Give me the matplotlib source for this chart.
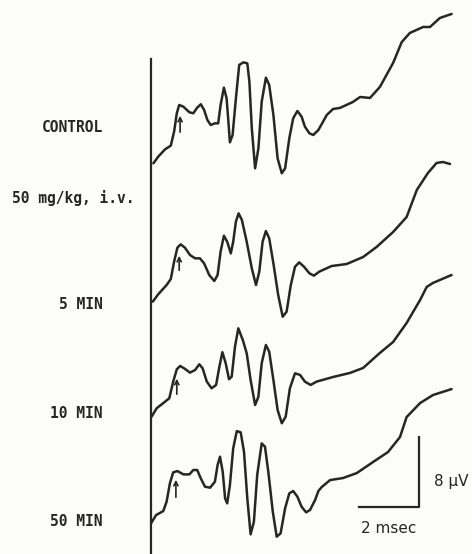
import matplotlib
matplotlib.use("Agg")
import matplotlib.pyplot as plt

# evoked potential traces: time after stimulus (msec) and amplitude (uV) relative to start
control_t = [0.08, 0.24, 0.47, 0.66, 0.77, 0.86, 0.94, 1.08, 1.28, 1.41, 1.54, 1.66, 1.77, 1.88, 1.99,
             2.13, 2.24, 2.32, 2.43, 2.52, 2.58, 2.63, 2.72, 2.83, 2.94, 3.08, 3.21, 3.28, 3.36, 3.47,
             3.58, 3.69, 3.83, 3.94, 4.08, 4.22, 4.36, 4.47, 4.61, 4.74, 4.88, 5.02, 5.13, 5.28, 5.41,
             5.58, 5.70, 5.86, 6.07, 6.30, 6.73, 6.97, 7.30, 7.63, 8.07, 8.36, 8.63, 9.07, 9.30, 9.63,
             10.02]
control_v = [-0.04, 0.72, 1.56, 1.98, 3.58, 5.68, 6.63, 6.43, 5.79, 5.68, 6.32, 6.71, 6.06, 4.91, 4.34,
             4.53, 4.53, 6.63, 8.61, 7.39, 4.72, 2.36, 3.2, 7.39, 11.2, 11.5, 11.39, 9.29, 3.97, -0.61,
             1.68, 7.0, 9.75, 8.91, 5.49, 0.53, -1.18, -0.61, 2.82, 5.11, 5.94, 5.29, 4.15, 3.39, 3.2,
             3.77, 4.5, 5.49, 6.17, 6.29, 6.97, 7.54, 7.43, 8.69, 11.43, 13.83, 14.86, 15.54, 15.54, 16.57,
             17.03]

min5_t = [0.06, 0.24, 0.52, 0.66, 0.77, 0.88, 0.99, 1.13, 1.30, 1.47, 1.63, 1.77, 1.94, 2.11, 2.22,
          2.32, 2.43, 2.54, 2.66, 2.74, 2.83, 2.92, 3.03, 3.19, 3.36, 3.50, 3.61, 3.72, 3.83, 3.94,
          4.08, 4.24, 4.39, 4.52, 4.66, 4.80, 4.94, 5.10, 5.28, 5.43, 5.61, 6.02, 6.52, 7.07, 7.52,
          8.07, 8.52, 8.86, 9.23, 9.52, 9.73, 9.97]
min5_v = [0.04, 0.88, 1.94, 2.63, 4.61, 6.21, 6.59, 6.21, 5.37, 4.99, 4.99, 4.42, 3.09, 2.4, 3.09,
          5.75, 7.58, 6.89, 5.56, 6.89, 9.18, 10.13, 9.37, 6.89, 3.85, 1.94, 3.47, 6.89, 8.11, 7.28,
          4.42, 0.8, -1.68, -1.11, 1.94, 4.03, 4.53, 4.03, 3.28, 3.01, 3.47, 4.11, 4.34, 5.14, 6.29,
          8.0, 9.71, 12.8, 14.74, 15.89, 16.0, 15.77]

min10_t = [0.02, 0.19, 0.47, 0.61, 0.74, 0.86, 0.97, 1.10, 1.30, 1.47, 1.61, 1.72, 1.86, 2.02, 2.17,
           2.28, 2.38, 2.49, 2.60, 2.69, 2.80, 2.91, 3.06, 3.19, 3.32, 3.47, 3.58, 3.69, 3.83, 3.94,
           4.08, 4.22, 4.36, 4.49, 4.63, 4.80, 4.97, 5.13, 5.32, 5.52, 6.07, 6.63, 7.07, 7.63, 8.07,
           8.52, 8.97, 9.19, 9.40, 10.02]
min10_v = [-0.19, 0.77, 1.52, 1.91, 3.81, 5.22, 5.6, 5.34, 4.84, 5.14, 5.79, 5.34, 3.81, 3.05, 3.43,
           5.52, 7.17, 5.91, 4.08, 4.38, 7.81, 9.9, 8.57, 7.05, 4.0, 1.14, 2.09, 5.91, 8.0, 7.23,
           4.0, 0.57, -0.95, -0.19, 3.05, 4.76, 4.57, 3.81, 3.43, 3.81, 4.34, 4.8, 5.37, 7.09, 8.34,
           10.51, 13.14, 14.63, 15.09, 16.0]

min50_t = [0.0, 0.17, 0.41, 0.52, 0.63, 0.74, 0.88, 1.08, 1.28, 1.41, 1.54, 1.66, 1.80, 1.97, 2.13,
           2.22, 2.30, 2.39, 2.47, 2.54, 2.63, 2.74, 2.86, 2.99, 3.10, 3.21, 3.32, 3.43, 3.54, 3.69,
           3.80, 3.91, 4.06, 4.19, 4.32, 4.47, 4.61, 4.74, 4.88, 5.02, 5.17, 5.30, 5.47, 5.58, 5.69,
           5.97, 6.40, 6.86, 7.40, 7.90, 8.30, 8.52, 8.97, 9.40, 10.02]
min50_v = [-0.04, 0.91, 1.37, 2.44, 4.53, 5.79, 5.94, 5.56, 5.56, 6.06, 6.06, 5.1, 4.15, 4.04, 4.72,
           6.63, 7.58, 5.87, 2.82, 2.25, 4.34, 8.53, 10.51, 10.36, 8.15, 2.82, -1.29, 0.15, 5.49, 9.1,
           8.72, 5.87, 1.29, -1.56, -1.18, 1.68, 3.39, 3.66, 3.01, 1.86, 1.22, 1.49, 2.63, 3.66, 4.11,
           4.91, 5.14, 5.71, 6.97, 8.11, 9.83, 12.11, 13.71, 14.63, 15.31]

labels = ["CONTROL", "5 MIN", "10 MIN", "50 MIN"]
arrow_t = [0.97, 0.94, 0.86, 0.83]
arrow_v = [(3.2, 5.71), (3.31, 5.6), (2.06, 4.46), (2.63, 5.26)]
scale_ms = 2
scale_uv = 8

traces = [(control_t, control_v), (min5_t, min5_v), (min10_t, min10_v), (min50_t, min50_v)]
offsets = [44.69, 28.8, 15.89, 3.54]
label_y = [48.69, 28.46, 16.11, 3.66]

ink = "#262626"
paper = "#fcfcfa"
fig = plt.figure(figsize=(4.72, 5.54), dpi=100, facecolor=paper)
ax = fig.add_axes([0, 0, 1, 1])
ax.set_facecolor(paper)
ax.set_xlim(-151 / 30, 321 / 30)
ax.set_ylim(0, 554 / 8.75)
ax.axis("off")

# stimulus line
ax.plot([0, 0], [0, 56.6], color=ink, lw=1.6)

for (t, v), off, lab, at, av, ly in zip(traces, offsets, labels, arrow_t, arrow_v, label_y):
    ax.plot(t, [x + off for x in v], color=ink, lw=1.8, solid_joinstyle="round",
            solid_capstyle="round")
    ax.annotate("", xy=(at, av[1] + off), xytext=(at, av[0] + off),
                arrowprops=dict(arrowstyle="->,head_length=0.3,head_width=0.15",
                                color=ink, lw=1.2))
    ax.text(-1.6, ly, lab, ha="right", va="center", family="DejaVu Sans Mono",
            fontsize=10.5, fontweight="bold", color=ink)

ax.text(-2.6, 40.69, "50 mg/kg, i.v.", ha="center", va="center",
        family="DejaVu Sans Mono", fontsize=10.5, fontweight="bold", color=ink)

# scale bar
sx, sy = 8.92, 5.37
ax.plot([sx - scale_ms, sx, sx], [sy, sy, sy + scale_uv], color=ink, lw=1.6)
ax.text(sx + 0.5, sy + 2.9, f"{scale_uv} µV", ha="left", va="center",
        fontsize=11, color=ink)
ax.text(sx - scale_ms / 2, sy - 2.4, f"{scale_ms} msec", ha="center", va="center",
        fontsize=11, color=ink)

fig.savefig("out.png", dpi=100, facecolor=fig.get_facecolor())
